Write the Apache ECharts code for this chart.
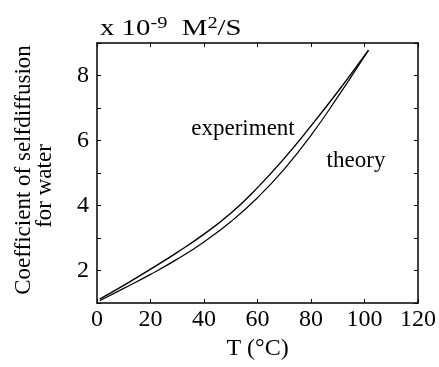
<!DOCTYPE html>
<html>
<head>
<meta charset="utf-8">
<script src="https://cdn.jsdelivr.net/npm/echarts@6/dist/echarts.min.js"></script>
<style>
html,body{margin:0;padding:0;background:#fff;}
#chart{width:439px;height:367px;}
</style>
</head>
<body>
<div id="chart"></div>
<script>
// Temperature (°C) and self-diffusion coefficient (x 10^-9 m^2/s)
var temps = [1, 10, 20, 30, 40, 50, 60, 70, 80, 90, 100, 101.5];
var diffExp = [1.12, 1.54, 2.04, 2.56, 3.12, 3.76, 4.55, 5.45, 6.45, 7.50, 8.61, 8.78];
var diffTheory = [1.07, 1.45, 1.88, 2.35, 2.88, 3.50, 4.24, 5.12, 6.16, 7.34, 8.59, 8.78];
var xTicks = [0, 20, 40, 60, 80, 100, 120];
var yTickLabels = [2, 4, 6, 8];

function pairs(xs, ys) { return xs.map(function (x, i) { return [x, ys[i]]; }); }

var FONT = '"Liberation Serif", "DejaVu Serif", serif';
var chart = echarts.init(document.getElementById('chart'), null, {renderer: 'canvas'});

var axisCommon = {
  type: 'value',
  axisLine: {show: true, onZero: false, lineStyle: {color: '#000', width: 1.5}},
  axisTick: {show: true, inside: true, length: 4, lineStyle: {color: '#000', width: 1}},
  splitLine: {show: false}
};

chart.setOption({
  animation: false,
  backgroundColor: '#fff',
  grid: {left: 97, right: 10, top: 43, bottom: 64, containLabel: false},
  xAxis: [
    Object.assign({}, axisCommon, {
      position: 'bottom', min: 0, max: 120, interval: 20,
      axisLabel: {show: true, color: '#000', fontFamily: FONT, fontSize: 24, margin: 5,
        formatter: function (v) { return xTicks.indexOf(v) >= 0 ? String(v) : ''; }},
      name: 'T (°C)', nameLocation: 'middle', nameGap: 23,
      nameTextStyle: {color: '#000', fontFamily: FONT, fontSize: 24}
    }),
    Object.assign({}, axisCommon, {
      position: 'top', min: 0, max: 120, interval: 20,
      axisLabel: {show: false}
    })
  ],
  yAxis: [
    Object.assign({}, axisCommon, {
      position: 'left', min: 1, max: 9, interval: 1,
      axisLabel: {show: true, color: '#000', fontFamily: FONT, fontSize: 24, margin: 8,
        formatter: function (v) { return yTickLabels.indexOf(v) >= 0 ? String(v) : ''; }}
    }),
    Object.assign({}, axisCommon, {
      position: 'right', min: 1, max: 9, interval: 1,
      axisLabel: {show: false}
    })
  ],
  series: [
    {name: 'experiment', type: 'line', smooth: 0.5, showSymbol: false,
      data: pairs(temps, diffExp), lineStyle: {color: '#000', width: 1.4}},
    {name: 'theory', type: 'line', smooth: 0.5, showSymbol: false,
      data: pairs(temps, diffTheory), lineStyle: {color: '#000', width: 1.2}}
  ],
  graphic: [
    {type: 'text', x: 100, y: 29, scaleX: 1.2, scaleY: 1,
      style: {
        text: 'x 10{sup|-9}  M{sup|2}/S',
        font: '24px ' + FONT, fill: '#000', align: 'left', verticalAlign: 'middle',
        rich: {sup: {fontSize: 17, fontFamily: FONT, verticalAlign: 'top', padding: [0,0,10,0], fill: '#000'}}
      }},
    {type: 'text', x: 24, y: 170, rotation: Math.PI / 2,
      style: {text: 'Coefficient of selfdiffusion', font: '23px ' + FONT, fill: '#000',
        align: 'center', verticalAlign: 'middle'}},
    {type: 'text', x: 45, y: 186, rotation: Math.PI / 2,
      style: {text: 'for water', font: '23px ' + FONT, fill: '#000',
        align: 'center', verticalAlign: 'middle'}},
    {type: 'text', x: 243, y: 129,
      style: {text: 'experiment', font: '23px ' + FONT, fill: '#000', align: 'center', verticalAlign: 'middle'}},
    {type: 'text', x: 356, y: 161,
      style: {text: 'theory', font: '23px ' + FONT, fill: '#000', align: 'center', verticalAlign: 'middle'}}
  ]
});
</script>
</body>
</html>
